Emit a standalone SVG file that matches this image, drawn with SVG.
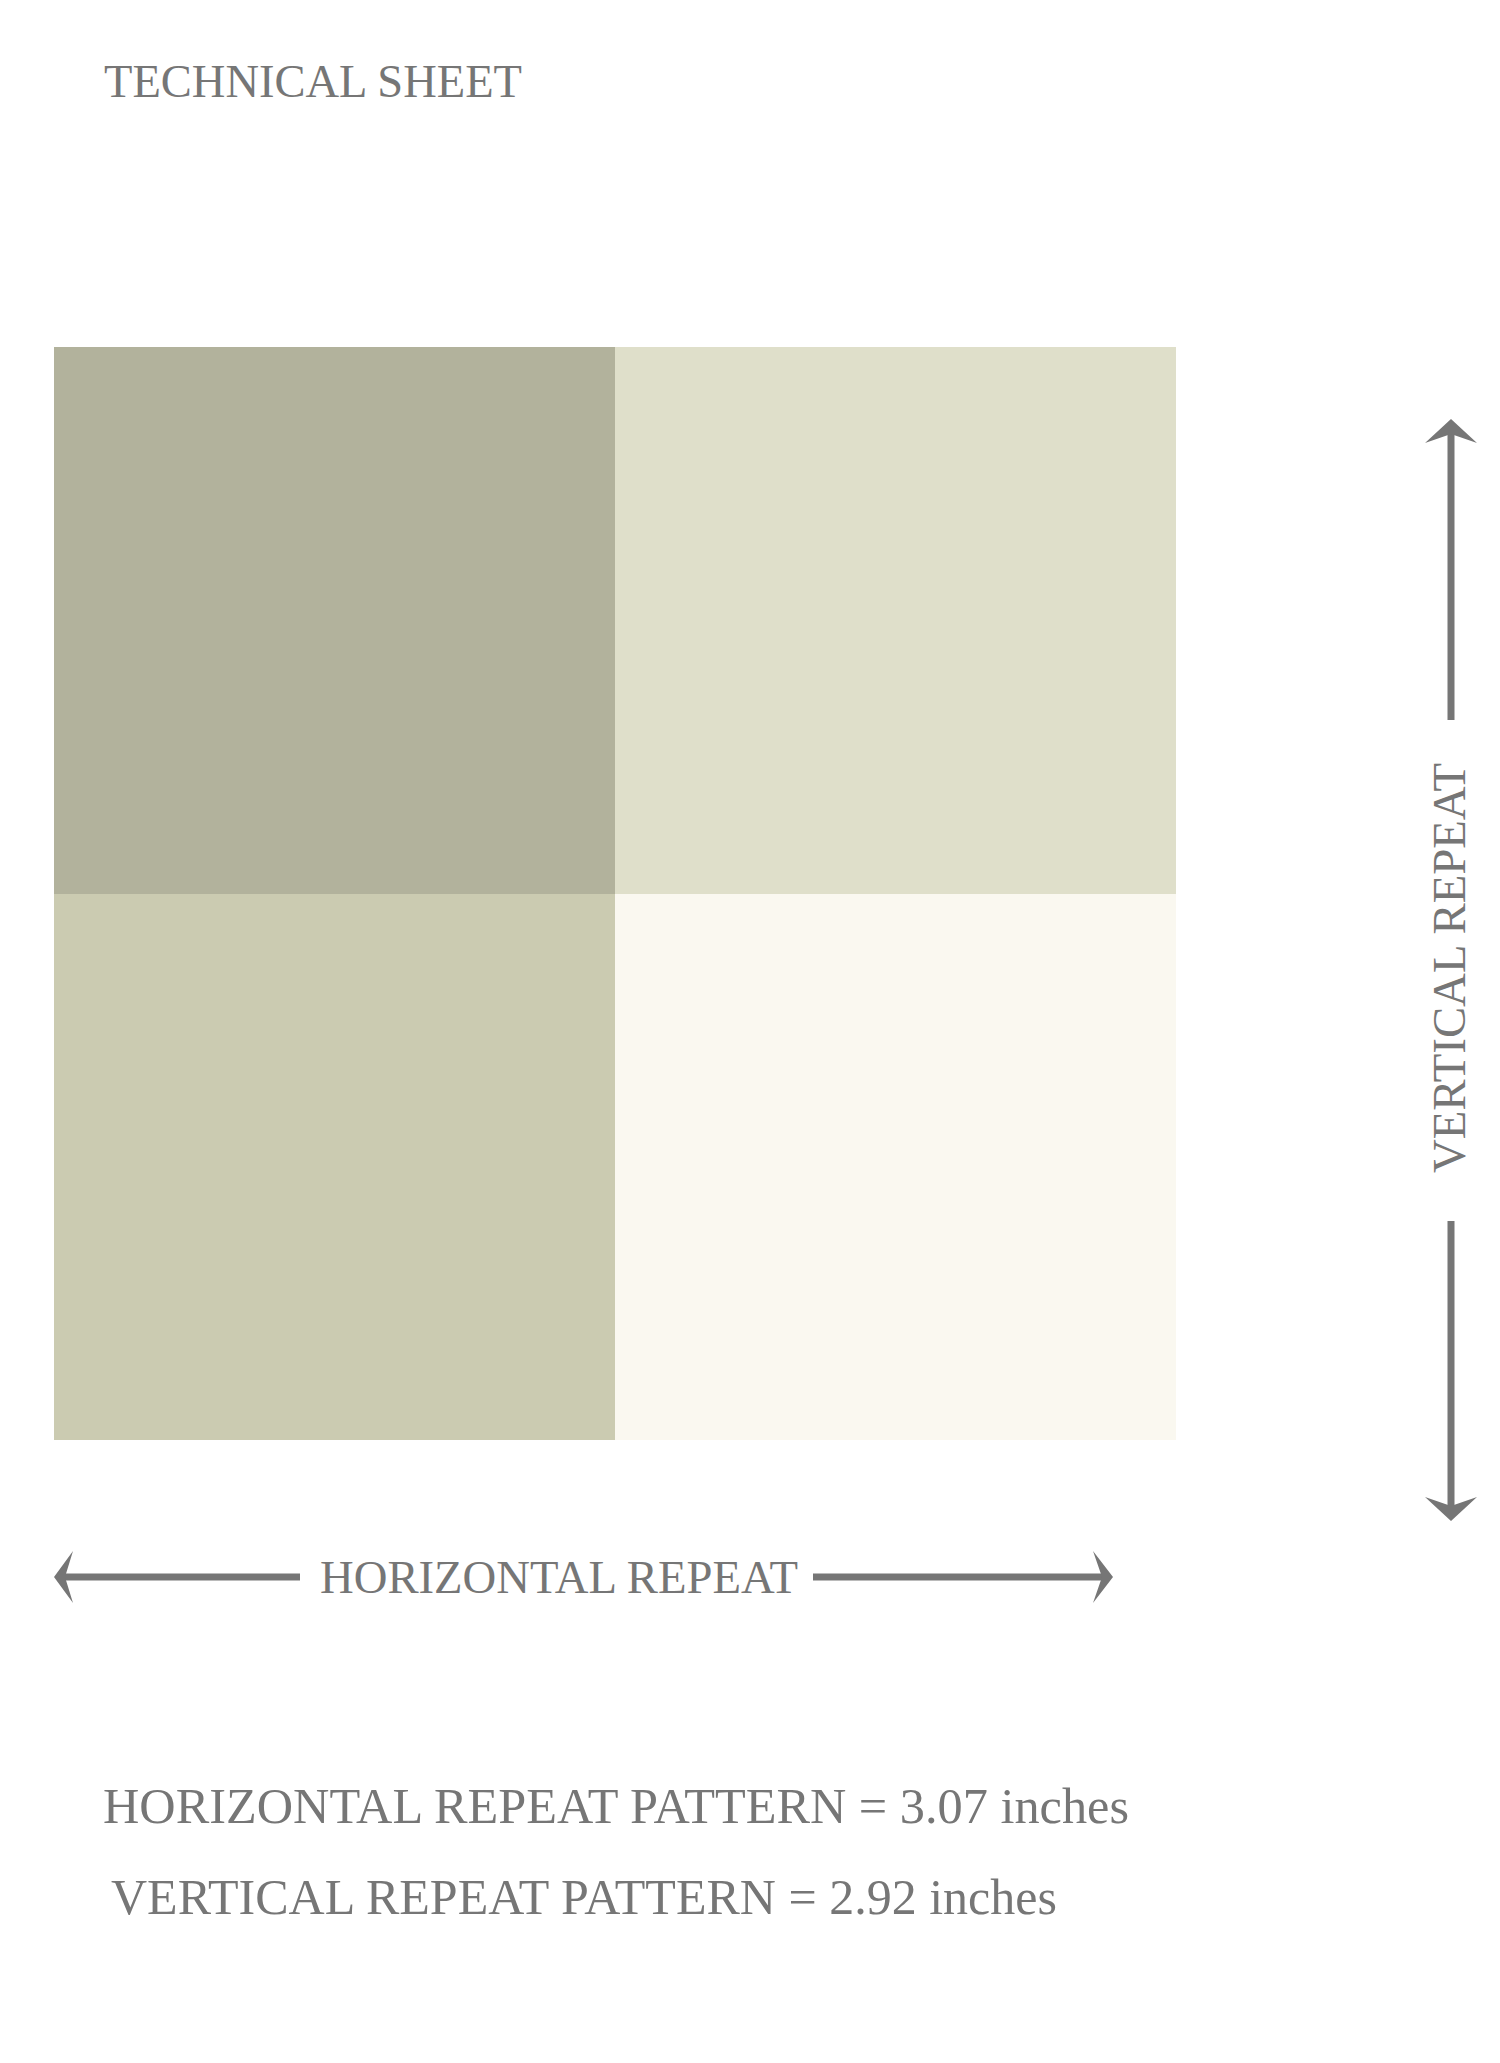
<svg xmlns="http://www.w3.org/2000/svg" width="1500" height="2063" viewBox="0 0 1500 2063">
<style>
.t{font-family:"Liberation Serif","Times New Roman",serif;fill:#767676}
.ln{stroke:#767676;stroke-width:7;fill:none}
.hd{fill:#767676}
</style>
<rect width="1500" height="2063" fill="#ffffff"/>
<g id="title"><text class="t" x="104" y="97" font-size="47" textLength="418" lengthAdjust="spacingAndGlyphs">TECHNICAL SHEET</text></g>
<g id="swatches">
<rect id="sw-tl" x="54" y="347" width="561" height="547" fill="#b2b29c"/>
<rect id="sw-tr" x="615" y="347" width="561" height="547" fill="#dfdfca"/>
<rect id="sw-bl" x="54" y="894" width="561" height="546" fill="#cbcbb1"/>
<rect id="sw-br" x="615" y="894" width="561" height="546" fill="#faf8f0"/>
</g>
<g id="connectors">
<line class="ln" x1="1451" y1="432" x2="1451" y2="720"/>
<polygon class="hd" points="1451,419 1477,443 1451,434 1425,443"/>
<line class="ln" x1="1451" y1="1221" x2="1451" y2="1508"/>
<polygon class="hd" points="1451,1521 1477,1497 1451,1506 1425,1497"/>
<line class="ln" x1="62" y1="1577" x2="300" y2="1577"/>
<polygon class="hd" points="54,1577 73,1551 65,1577 73,1603"/>
<line class="ln" x1="813" y1="1577" x2="1105" y2="1577"/>
<polygon class="hd" points="1113,1577 1093,1551 1102,1577 1093,1603"/>
</g>
<g id="label-vertical"><text class="t" font-size="47" text-anchor="middle" textLength="410" lengthAdjust="spacingAndGlyphs" transform="translate(1465,968) rotate(-90)">VERTICAL REPEAT</text></g>
<g id="label-horizontal"><text class="t" x="320" y="1593" font-size="47" textLength="478" lengthAdjust="spacingAndGlyphs">HORIZONTAL REPEAT</text></g>
<g id="specs">
<text class="t" x="103" y="1823" font-size="51" textLength="1026" lengthAdjust="spacingAndGlyphs">HORIZONTAL REPEAT PATTERN = 3.07 inches</text>
<text class="t" x="111" y="1914" font-size="51" textLength="946" lengthAdjust="spacingAndGlyphs">VERTICAL REPEAT PATTERN = 2.92 inches</text>
</g>
</svg>
